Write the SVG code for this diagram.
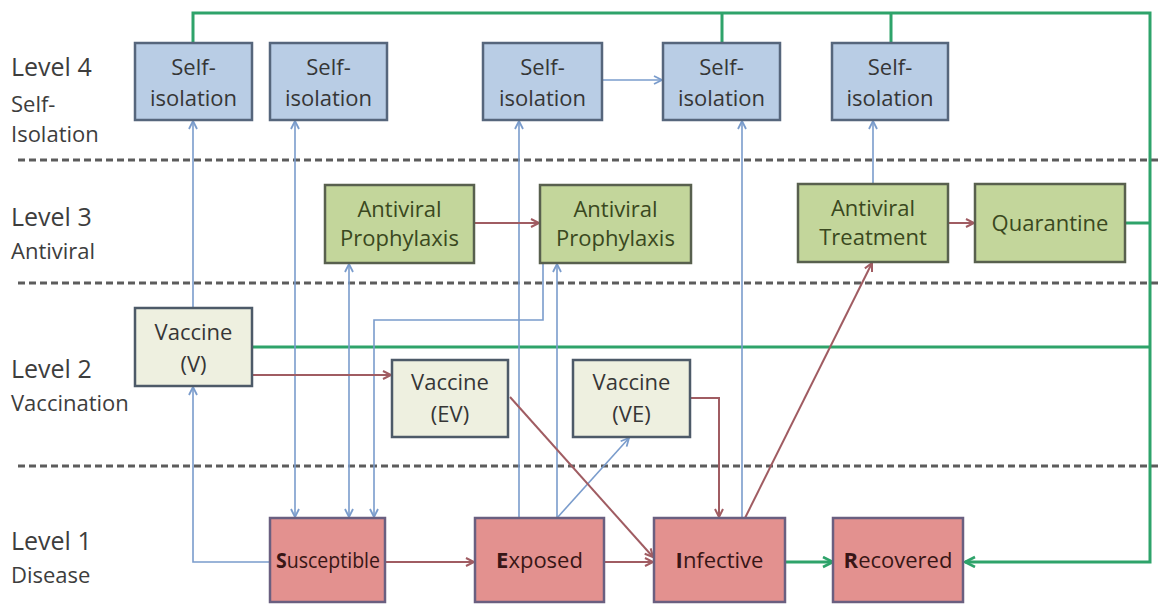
<svg xmlns="http://www.w3.org/2000/svg" width="1159" height="605" viewBox="0 0 1159 605">
<style>
text{font-family:"Open Sans",Lato,"Liberation Sans",sans-serif;}
.lvl{font-size:25px;fill:#3d3d3d;}
.sub{font-size:22px;fill:#3d3d3d;}
.si rect{fill:#b9cde5;stroke:#56667c;stroke-width:2.5;}
.av rect{fill:#c3d69b;stroke:#58604e;stroke-width:2.5;}
.vc rect{fill:#eef0e0;stroke:#4d5a68;stroke-width:2.5;}
.ds rect{fill:#e3918f;stroke:#6a5f80;stroke-width:2.5;}
.si text,.vc text{font-size:22px;fill:#363636;text-anchor:middle;}
.av text{font-size:22px;fill:#3a4820;text-anchor:middle;}
.ds text{font-size:22px;fill:#381616;text-anchor:middle;}
.dash{stroke:#5c5c5c;stroke-width:3;stroke-dasharray:7 4;fill:none;}
.b{stroke:#7a9ccc;stroke-width:1.6;fill:none;}
.r{stroke:#a05c62;stroke-width:2;fill:none;}
.g{stroke:#2ea36a;stroke-width:3;fill:none;}
</style>
<defs>
<marker id="ab" markerUnits="userSpaceOnUse" markerWidth="12" markerHeight="12" refX="9" refY="5" orient="auto-start-reverse"><path d="M1,1 L9,5 L1,9" fill="none" stroke="#7a9ccc" stroke-width="1.8"/></marker>
<marker id="ar" markerUnits="userSpaceOnUse" markerWidth="12" markerHeight="12" refX="9" refY="5" orient="auto"><path d="M1,1 L9,5 L1,9" fill="none" stroke="#a05c62" stroke-width="2"/></marker>
<marker id="ag" markerUnits="userSpaceOnUse" markerWidth="14" markerHeight="14" refX="11" refY="6" orient="auto"><path d="M1,1 L11,6 L1,11" fill="none" stroke="#2ea36a" stroke-width="2.6"/></marker>
</defs>
<rect width="1159" height="605" fill="#ffffff"/>
<g id="levels">
<text class="lvl" x="11" y="76">Level 4</text>
<text class="sub" x="11" y="112">Self-</text>
<text class="sub" x="11" y="142">Isolation</text>
<text class="lvl" x="11" y="226">Level 3</text>
<text class="sub" x="11" y="259">Antiviral</text>
<text class="lvl" x="11" y="378">Level 2</text>
<text class="sub" x="11" y="411">Vaccination</text>
<text class="lvl" x="11" y="550">Level 1</text>
<text class="sub" x="11" y="583">Disease</text>
<line class="dash" x1="18" y1="160" x2="1159" y2="160"/>
<line class="dash" x1="18" y1="283" x2="1159" y2="283"/>
<line class="dash" x1="18" y1="466" x2="1159" y2="466"/>
</g>
<g id="connectors">
<path class="g" d="M193,43 L193,13 L1150,13 L1150,562 L965,562" marker-end="url(#ag)"/>
<path class="g" d="M722,13 L722,43 M891,13 L891,43"/>
<path class="g" d="M1125,223 L1150,223"/>
<path class="g" d="M252,347 L1150,347"/>
<path class="g" d="M785,562 L833,562" marker-end="url(#ag)"/>
<path class="b" d="M193,308 L193,121" marker-end="url(#ab)"/>
<path class="b" d="M270,562 L193,562 L193,387" marker-end="url(#ab)"/>
<path class="b" d="M295,121 L295,517" marker-start="url(#ab)" marker-end="url(#ab)"/>
<path class="b" d="M349,264 L349,517" marker-start="url(#ab)" marker-end="url(#ab)"/>
<path class="b" d="M543,264 L543,320 L374,320 L374,517" marker-end="url(#ab)"/>
<path class="b" d="M519,518 L519,121" marker-end="url(#ab)"/>
<path class="b" d="M557,518 L557,264" marker-end="url(#ab)"/>
<path class="b" d="M557,518 L629,438" marker-end="url(#ab)"/>
<path class="b" d="M742,518 L742,121" marker-end="url(#ab)"/>
<path class="b" d="M873,184 L873,121" marker-end="url(#ab)"/>
<path class="b" d="M602,80 L662,80" marker-end="url(#ab)"/>
<path class="r" d="M474,223 L539,223" marker-end="url(#ar)"/>
<path class="r" d="M948,223 L974,223" marker-end="url(#ar)"/>
<path class="r" d="M252,375 L391,375" marker-end="url(#ar)"/>
<path class="r" d="M510,397 L653,557" marker-end="url(#ar)"/>
<path class="r" d="M690,398 L719,398 L719,517" marker-end="url(#ar)"/>
<path class="r" d="M745,518 L872,263" marker-end="url(#ar)"/>
<path class="r" d="M385,562 L474,562" marker-end="url(#ar)"/>
<path class="r" d="M604,562 L653,562" marker-end="url(#ar)"/>
</g>
<g id="si1" class="si"><rect x="135" y="43" width="117" height="77"/><text x="193.5" y="75">Self-</text><text x="193.5" y="106">isolation</text></g>
<g id="si2" class="si"><rect x="270" y="43" width="117" height="77"/><text x="328.5" y="75">Self-</text><text x="328.5" y="106">isolation</text></g>
<g id="si3" class="si"><rect x="483" y="43" width="119" height="77"/><text x="542.5" y="75">Self-</text><text x="542.5" y="106">isolation</text></g>
<g id="si4" class="si"><rect x="663" y="43" width="117" height="77"/><text x="721.5" y="75">Self-</text><text x="721.5" y="106">isolation</text></g>
<g id="si5" class="si"><rect x="832" y="43" width="116" height="77"/><text x="890" y="75">Self-</text><text x="890" y="106">isolation</text></g>
<g id="ap1" class="av"><rect x="325" y="185" width="149" height="78"/><text x="399.5" y="217">Antiviral</text><text x="399.5" y="246">Prophylaxis</text></g>
<g id="ap2" class="av"><rect x="540" y="185" width="151" height="78"/><text x="615.5" y="217">Antiviral</text><text x="615.5" y="246">Prophylaxis</text></g>
<g id="at" class="av"><rect x="798" y="184" width="150" height="78"/><text x="873" y="216">Antiviral</text><text x="873" y="245">Treatment</text></g>
<g id="qu" class="av"><rect x="975" y="184" width="150" height="78"/><text x="1050" y="231">Quarantine</text></g>
<g id="vv" class="vc"><rect x="135" y="308" width="117" height="78"/><text x="193.5" y="340">Vaccine</text><text x="193.5" y="372">(V)</text></g>
<g id="vev" class="vc"><rect x="392" y="360" width="116" height="77"/><text x="450" y="390">Vaccine</text><text x="450" y="422">(EV)</text></g>
<g id="vve" class="vc"><rect x="573" y="360" width="117" height="77"/><text x="631.5" y="390">Vaccine</text><text x="631.5" y="422">(VE)</text></g>
<g id="s" class="ds"><rect x="270" y="518" width="115" height="84"/><text x="328" y="568" textLength="104" lengthAdjust="spacingAndGlyphs"><tspan font-weight="bold">S</tspan>usceptible</text></g>
<g id="e" class="ds"><rect x="475" y="518" width="129" height="84"/><text x="539.5" y="568"><tspan font-weight="bold">E</tspan>xposed</text></g>
<g id="i" class="ds"><rect x="654" y="518" width="131" height="84"/><text x="719.5" y="568"><tspan font-weight="bold">I</tspan>nfective</text></g>
<g id="rc" class="ds"><rect x="833" y="518" width="130" height="84"/><text x="898" y="568"><tspan font-weight="bold">R</tspan>ecovered</text></g>
</svg>
